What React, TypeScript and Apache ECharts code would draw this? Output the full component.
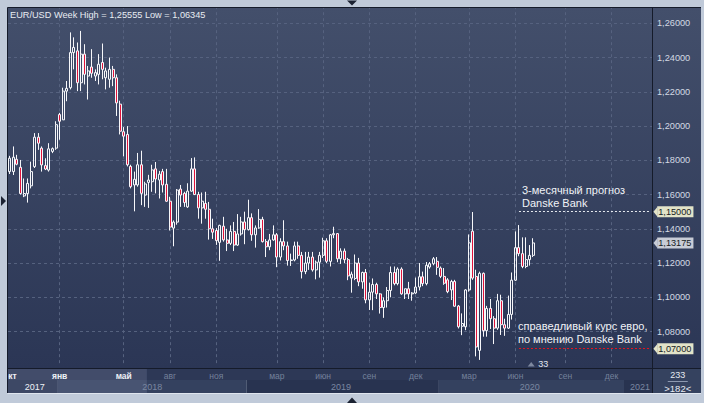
import React, { useEffect, useRef } from 'react';
import * as echarts from 'echarts';

// Weekly EUR/USD candles (oldest first)
const opens = [
  1.1734, 1.1734, 1.1806, 1.1759, 1.1592, 1.1606, 1.1651, 1.1763, 1.1935, 1.1871,
  1.1769, 1.1743, 1.1852, 1.1871, 1.2067, 1.2036, 1.2204, 1.2224, 1.2429, 1.2439,
  1.2253, 1.2420, 1.2292, 1.2345, 1.2292, 1.2302, 1.2371, 1.2282, 1.2273, 1.2331,
  1.2282, 1.2128, 1.1967, 1.1951, 1.1764, 1.1656, 1.1656, 1.1774, 1.1597, 1.1671,
  1.1675, 1.1750, 1.1685, 1.1734, 1.1660, 1.1561, 1.1404, 1.1439, 1.1632, 1.1607,
  1.1528, 1.1620, 1.1750, 1.1600, 1.1522, 1.1548, 1.1514, 1.1400, 1.1390, 1.1321,
  1.1415, 1.1335, 1.1315, 1.1385, 1.1305, 1.1370, 1.1440, 1.1395, 1.1465, 1.1365,
  1.1405, 1.1455, 1.1325, 1.1295, 1.1335, 1.1365, 1.1235, 1.1325, 1.1300, 1.1215,
  1.1218, 1.1300, 1.1245, 1.1150, 1.1200, 1.1235, 1.1160, 1.1205, 1.1245, 1.1330,
  1.1210, 1.1365, 1.1372, 1.1225, 1.1270, 1.1220, 1.1112, 1.1110, 1.1200, 1.1090,
  1.1145, 1.0985, 1.1030, 1.1075, 1.1020, 1.0940, 1.0980, 1.1040, 1.1145, 1.1080,
  1.1165, 1.1020, 1.1050, 1.1020, 1.1025, 1.1060, 1.1120, 1.1080, 1.1177, 1.1196,
  1.1210, 1.1171, 1.1122, 1.1102, 1.1043, 1.1092, 1.0949, 1.0831, 1.0828, 1.1043,
  1.1386, 1.1122, 1.0690, 1.1140, 1.0805, 1.0935, 1.0875, 1.0820, 1.0980, 1.0840,
  1.0820, 1.0900, 1.1100, 1.1290, 1.1255, 1.1180, 1.1220, 1.1245,
];
const highs = [
  1.1826, 1.1881, 1.1832, 1.1802, 1.1694, 1.1694, 1.1792, 1.1959, 1.1959, 1.1881,
  1.1812, 1.1900, 1.1875, 1.2028, 1.2077, 1.2224, 1.2263, 1.2547, 1.2518, 1.2488,
  1.25555, 1.2478, 1.2351, 1.2449, 1.2331, 1.2420, 1.2482, 1.2341, 1.2400, 1.2351,
  1.2302, 1.2148, 1.1994, 1.2000, 1.1774, 1.1734, 1.1843, 1.1856, 1.1675, 1.1715,
  1.1774, 1.1790, 1.1738, 1.1750, 1.1750, 1.1587, 1.1449, 1.1632, 1.1656, 1.1616,
  1.1666, 1.1813, 1.1817, 1.1616, 1.1612, 1.1616, 1.1557, 1.1459, 1.1404, 1.1424,
  1.1470, 1.1400, 1.1420, 1.1440, 1.1486, 1.1470, 1.1500, 1.1570, 1.1490, 1.1420,
  1.1515, 1.1470, 1.1340, 1.1370, 1.1420, 1.1375, 1.1345, 1.1450, 1.1325, 1.1255,
  1.1325, 1.1325, 1.1265, 1.1265, 1.1265, 1.1265, 1.1215, 1.1265, 1.1348, 1.1345,
  1.1370, 1.1412, 1.1375, 1.1286, 1.1285, 1.1230, 1.1150, 1.1250, 1.1230, 1.1150,
  1.1165, 1.1085, 1.1110, 1.1085, 1.1025, 1.1000, 1.1060, 1.1180, 1.1180, 1.1175,
  1.1175, 1.1050, 1.1090, 1.1030, 1.1115, 1.1200, 1.1150, 1.1206, 1.1206, 1.1235,
  1.1235, 1.1180, 1.1171, 1.1112, 1.1102, 1.1102, 1.0955, 1.0906, 1.1047, 1.1367,
  1.1498, 1.1161, 1.1150, 1.1145, 1.0950, 1.0990, 1.0890, 1.1020, 1.1015, 1.0875,
  1.1010, 1.1145, 1.1385, 1.1422, 1.1350, 1.1350, 1.1305, 1.1345,
];
const lows = [
  1.1720, 1.1714, 1.1771, 1.1600, 1.1585, 1.1553, 1.1636, 1.1755, 1.1861, 1.1734,
  1.1743, 1.1734, 1.1842, 1.1861, 1.1920, 1.2036, 1.2145, 1.2214, 1.2331, 1.2204,
  1.2204, 1.2243, 1.2155, 1.2282, 1.2263, 1.2243, 1.2273, 1.2214, 1.2224, 1.2233,
  1.2059, 1.1951, 1.1823, 1.1764, 1.1636, 1.1502, 1.1646, 1.1538, 1.1528, 1.1522,
  1.1616, 1.1607, 1.1577, 1.1612, 1.1557, 1.1390, 1.1298, 1.1424, 1.1528, 1.1528,
  1.1522, 1.1616, 1.1597, 1.1459, 1.1430, 1.1459, 1.1337, 1.1341, 1.1306, 1.1213,
  1.1325, 1.1270, 1.1305, 1.1270, 1.1300, 1.1360, 1.1310, 1.1390, 1.1330, 1.1290,
  1.1400, 1.1320, 1.1235, 1.1275, 1.1330, 1.1176, 1.1215, 1.1275, 1.1185, 1.1183,
  1.1210, 1.1225, 1.1110, 1.1135, 1.1160, 1.1150, 1.1105, 1.1115, 1.1230, 1.1200,
  1.1180, 1.1345, 1.1205, 1.1195, 1.1200, 1.1100, 1.1027, 1.1100, 1.1065, 1.1050,
  1.0965, 1.0926, 1.0925, 1.0990, 1.0905, 1.0880, 1.0940, 1.1000, 1.1070, 1.1070,
  1.1015, 1.0990, 1.0990, 1.0980, 1.1020, 1.1040, 1.1065, 1.1070, 1.1167, 1.1187,
  1.1131, 1.1112, 1.1073, 1.1024, 1.0984, 1.0945, 1.0818, 1.0779, 1.0808, 1.1033,
  1.1102, 1.0655, 1.06345, 1.0770, 1.0770, 1.0815, 1.0727, 1.0810, 1.0780, 1.0775,
  1.0815, 1.0870, 1.1095, 1.1240, 1.1170, 1.1170, 1.1185, 1.1235,
];
const closes = [
  1.1812, 1.1818, 1.1777, 1.1606, 1.1606, 1.1665, 1.1734, 1.1935, 1.1900, 1.1773,
  1.1749, 1.1867, 1.1868, 1.2008, 1.2028, 1.2204, 1.2220, 1.2429, 1.2459, 1.2253,
  1.2420, 1.2302, 1.2322, 1.2308, 1.2312, 1.2361, 1.2331, 1.2322, 1.2331, 1.2282,
  1.2135, 1.1970, 1.1941, 1.1774, 1.1646, 1.1689, 1.1774, 1.1607, 1.1662, 1.1685,
  1.1744, 1.1691, 1.1719, 1.1656, 1.1561, 1.1410, 1.1439, 1.1626, 1.1597, 1.1553,
  1.1620, 1.1750, 1.1600, 1.1522, 1.1561, 1.1514, 1.1400, 1.1380, 1.1331, 1.1420,
  1.1335, 1.1315, 1.1385, 1.1305, 1.1370, 1.1440, 1.1395, 1.1465, 1.1365, 1.1405,
  1.1455, 1.1325, 1.1295, 1.1335, 1.1365, 1.1235, 1.1325, 1.1300, 1.1215, 1.1218,
  1.1300, 1.1245, 1.1150, 1.1200, 1.1235, 1.1160, 1.1205, 1.1245, 1.1330, 1.1210,
  1.1365, 1.1372, 1.1225, 1.1270, 1.1220, 1.1125, 1.1135, 1.1200, 1.1090, 1.1145,
  1.0985, 1.1030, 1.1075, 1.1020, 1.0940, 1.0980, 1.1040, 1.1145, 1.1080, 1.1165,
  1.1020, 1.1050, 1.1020, 1.1025, 1.1060, 1.1120, 1.1080, 1.1187, 1.1196, 1.1225,
  1.1175, 1.1122, 1.1082, 1.1033, 1.1092, 1.0948, 1.0828, 1.0847, 1.1043, 1.1318,
  1.1112, 1.0710, 1.1140, 1.0805, 1.0935, 1.0875, 1.0820, 1.0980, 1.0840, 1.0820,
  1.0900, 1.1100, 1.1290, 1.1255, 1.1180, 1.1220, 1.1245, 1.13175,
];

const futureBars = 33; // empty bars to the right of the last candle
const monthTickIndex = [0, 14, 32, 45, 58, 75, 88, 101, 114, 129, 142, 156, 169];
const monthTickLabel = ['окт', 'янв', 'май', 'авг', 'ноя', 'мар', 'июн', 'сен', 'дек', 'мар', 'июн', 'сен', 'дек'];
const yearStartIndex = [0, 14, 67, 121, 173];
const yearLabelIndex = [7, 40, 93, 146, 177];
const yearLabel = ['2017', '2018', '2019', '2020', '2021'];
const navigatorEndIndex = 39;
const forecastLevel = 1.15;
const fairLevel = 1.07;
const annotationStartIndex = 143;
const forecastText = ['3-месячный прогноз', 'Danske Bank'];
const fairText = ['справедливый курс евро,', 'по мнению Danske Bank'];
const barsTotalText = '233';
const barsVisibleText = '>182<';

const FONT = '"Liberation Sans", Arial, sans-serif';

export default function App() {
  const ref = useRef<HTMLDivElement>(null);

  useEffect(() => {
    const chart = echarts.init(ref.current!, null, { renderer: 'svg' });
    const n = opens.length;
    const total = n + futureBars;
    const categories = Array.from({ length: total }, (_, i) => String(i));
    const ohlc = opens.map((o, i) => [o, closes[i], lows[i], highs[i]]);
    const fmt = (v: number) => v.toFixed(5).replace('.', ',');
    const hi = Math.max(...highs);
    const lo = Math.min(...lows);
    const last = closes[n - 1];
    const monthMap = new Map<number, string>(monthTickIndex.map((idx, k) => [idx, monthTickLabel[k]]));
    const yearMap = new Map<number, string>(yearLabelIndex.map((idx, k) => [idx, yearLabel[k]]));

    const gridLine = { color: '#56627f', width: 1, type: [3, 3] as any };
    const hidden = { color: 'rgba(0,0,0,0)', width: 1, type: 'solid' };
    const box = (text: string, bg: string) => ({
      show: true,
      position: 'end',
      formatter: text,
      distance: 6.5,
      backgroundColor: bg,
      color: '#161a22',
      padding: [1, 2, 0, 1],
      fontSize: 9.2,
      lineHeight: 10,
      fontFamily: FONT,
      opacity: 1,
    });
    const note = (lines: string[], dist: number[]) => ({
      show: true,
      position: 'insideStartTop',
      formatter: lines.join('\n'),
      color: '#f1f3f7',
      fontSize: 11,
      lineHeight: 13,
      fontFamily: FONT,
      distance: dist,
    });

    chart.setOption({
      animation: false,
      backgroundColor: '#c0cad9',
      grid: { left: 7.5, right: 51.5, top: 6.18, bottom: 37.2, containLabel: false },
      xAxis: [
        {
          type: 'category',
          data: categories,
          boundaryGap: true,
          z: 2,
          axisLine: { show: false },
          axisTick: { show: false },
          axisLabel: {
            interval: (i: number) => monthMap.has(i),
            formatter: (_v: string, i: number) => {
              const t = monthMap.get(i) ?? '';
              return i < navigatorEndIndex ? `{hi|${t}}` : `{lo|${t}}`;
            },
            margin: 5.5,
            rich: {
              hi: { color: '#eef1f6', fontWeight: 'bold', fontSize: 8.5, fontFamily: FONT },
              lo: { color: '#74819b', fontSize: 8.5, fontFamily: FONT },
            },
          },
          splitLine: {
            show: true,
            interval: (i: number) => monthMap.has(i) && i > 0,
            alignWithLabel: true,
            lineStyle: gridLine,
          },
        },
        {
          type: 'category',
          data: categories,
          position: 'bottom',
          boundaryGap: true,
          z: 2,
          axisLine: { show: false },
          axisTick: { show: false },
          splitLine: { show: false },
          axisLabel: {
            interval: (i: number) => yearMap.has(i),
            formatter: (_v: string, i: number) => {
              const t = yearMap.get(i) ?? '';
              return i < navigatorEndIndex ? `{hi|${t}}` : `{lo|${t}}`;
            },
            margin: 16.5,
            rich: {
              hi: { color: '#eef1f6', fontSize: 9, fontFamily: FONT },
              lo: { color: '#7a87a1', fontSize: 9, fontFamily: FONT },
            },
          },
        },
      ],
      yAxis: {
        type: 'value',
        position: 'right',
        min: 1.06,
        max: 1.27,
        interval: 0.02,
        z: 2,
        axisLine: { show: false },
        axisTick: { show: false },
        axisLabel: {
          color: '#d3d9e3',
          fontSize: 9.2,
          fontFamily: FONT,
          margin: 4.5,
          formatter: (v: number) => (v > 1.265 || v < 1.065 ? '' : fmt(v)),
        },
        splitLine: { show: true, showMinLine: false, showMaxLine: false, lineStyle: gridLine },
      },
      series: [
        {
          type: 'candlestick',
          data: ohlc,
          barWidth: 2.5,
          clip: false,
          z: 3,
          itemStyle: {
            color: 'rgba(0,0,0,0)',
            color0: '#e0123a',
            borderColor: '#f6f7fa',
            borderColor0: '#f6f7fa',
            borderWidth: 1,
          },
          markLine: {
            symbol: ['none', 'none'],
            silent: true,
            animation: false,
            z: 6,
            data: [
              [
                {
                  coord: [annotationStartIndex, forecastLevel],
                  lineStyle: { color: '#e6e9ef', width: 1, type: [2, 2] },
                  label: note(forecastText, [3, 2]),
                },
                { coord: [total - 1, forecastLevel] },
              ],
              [
                { coord: [annotationStartIndex, forecastLevel], lineStyle: hidden, label: box(fmt(forecastLevel), '#e2e3c8') },
                { coord: [total - 1, forecastLevel] },
              ],
              [
                {
                  coord: [annotationStartIndex, fairLevel],
                  lineStyle: { color: '#e4141f', width: 1, type: [2, 2] },
                  label: note(fairText, [-1, 3]),
                },
                { coord: [total - 1, fairLevel] },
              ],
              [
                { coord: [annotationStartIndex, fairLevel], lineStyle: hidden, label: box(fmt(fairLevel), '#e2e3c8') },
                { coord: [total - 1, fairLevel] },
              ],
              [
                { coord: [n - 1, last], lineStyle: hidden, label: box(fmt(last), '#c8ccd6') },
                { coord: [total - 1, last] },
              ],
            ],
          },
        },
      ],
    });

    // positions derived from the chart's own scales
    const X = (i: number) => chart.convertToPixel({ xAxisIndex: 0 }, i) as number;
    const Y = (v: number) => chart.convertToPixel({ yAxisIndex: 0 }, v) as number;
    const step = X(1) - X(0);
    const edge = (i: number) => X(i) - step / 2;

    const L = 7.5, T = 7.5, R = 652.5, B = 368, BB = 393, PR = 701, W = 704, H = 403;
    const frame = '#c0cad9';
    const dark = '#151b2a';
    const bgGrad = () =>
      new echarts.graphic.LinearGradient(0, 0, 0, 1, [
        { offset: 0, color: '#434f6b' },
        { offset: 1, color: '#2b3655' },
      ]);

    const els: any[] = [];
    els.push({ type: 'rect', z: 0, silent: true, shape: { x: L, y: T, width: R - L, height: B - T }, style: { fill: bgGrad() } });
    els.push({ type: 'rect', z: 0, silent: true, shape: { x: R, y: T, width: PR - R, height: B - T }, style: { fill: bgGrad() } });
    // time band
    els.push({ type: 'rect', z: 1, silent: true, shape: { x: L, y: B, width: R - L, height: 12 }, style: { fill: '#2d3856' } });
    yearStartIndex.forEach((s, k) => {
      const x0 = k === 0 ? L : edge(s);
      const x1 = k === yearStartIndex.length - 1 ? R : edge(yearStartIndex[k + 1]);
      els.push({
        type: 'rect', z: 1, silent: true,
        shape: { x: x0, y: B + 12, width: x1 - x0, height: BB - B - 12 },
        style: { fill: k % 2 === 0 ? '#283350' : '#34415f' },
      });
    });
    els.push({
      type: 'rect', z: 1.5, silent: true,
      shape: { x: L, y: B, width: edge(navigatorEndIndex) - L, height: BB - B },
      style: { fill: 'rgba(205,218,245,0.13)' },
    });
    // bottom right panel
    els.push({ type: 'rect', z: 1, silent: true, shape: { x: R, y: B, width: PR - R, height: BB - B }, style: { fill: '#35425f' } });
    const cx = (R + PR) / 2 + 1;
    els.push({ type: 'text', z: 12, silent: true, x: cx, y: 375, style: { text: barsTotalText, fill: '#e6eaf1', font: `9px ${FONT}`, textAlign: 'center', align: 'center', textVerticalAlign: 'middle', verticalAlign: 'middle' } });
    els.push({ type: 'line', z: 12, silent: true, shape: { x1: cx - 10, y1: 381.5, x2: cx + 10, y2: 381.5 }, style: { stroke: '#8d99b0', lineWidth: 1 } });
    els.push({ type: 'text', z: 12, silent: true, x: cx, y: 388, style: { text: barsVisibleText, fill: '#e6eaf1', font: `9.5px ${FONT}`, textAlign: 'center', align: 'center', textVerticalAlign: 'middle', verticalAlign: 'middle' } });
    // frame
    els.push({ type: 'rect', z: 10, silent: true, shape: { x: 0, y: 0, width: W, height: T }, style: { fill: frame } });
    els.push({ type: 'rect', z: 10, silent: true, shape: { x: 0, y: 0, width: L, height: H }, style: { fill: frame } });
    els.push({ type: 'rect', z: 10, silent: true, shape: { x: PR, y: 0, width: W - PR, height: H }, style: { fill: frame } });
    els.push({ type: 'rect', z: 10, silent: true, shape: { x: 0, y: BB, width: W, height: H - BB }, style: { fill: frame } });
    els.push({ type: 'line', z: 11, silent: true, shape: { x1: L, y1: T, x2: PR, y2: T }, style: { stroke: dark, lineWidth: 1 } });
    els.push({ type: 'line', z: 11, silent: true, shape: { x1: L, y1: T, x2: L, y2: BB }, style: { stroke: dark, lineWidth: 1 } });
    els.push({ type: 'line', z: 11, silent: true, shape: { x1: R, y1: T, x2: R, y2: BB }, style: { stroke: dark, lineWidth: 1 } });
    els.push({ type: 'line', z: 11, silent: true, shape: { x1: L, y1: B + 0.5, x2: PR, y2: B + 0.5 }, style: { stroke: dark, lineWidth: 1 } });
    els.push({ type: 'line', z: 11, silent: true, shape: { x1: L, y1: BB + 0.5, x2: PR, y2: BB + 0.5 }, style: { stroke: '#dfe5ee', lineWidth: 1 } });
    // frame arrows
    els.push({ type: 'polygon', z: 11, silent: true, shape: { points: [[347, 0.5], [357, 0.5], [352, 5.5]] }, style: { fill: '#1b2232' } });
    els.push({ type: 'polygon', z: 11, silent: true, shape: { points: [[347, 403], [357, 403], [352, 397.5]] }, style: { fill: '#1b2232' } });
    els.push({ type: 'polygon', z: 11, silent: true, shape: { points: [[1, 196], [1, 206], [6, 201]] }, style: { fill: '#1b2232' } });
    // title
    els.push({
      type: 'text', z: 12, silent: true, x: 10, y: 10.5,
      style: {
        text: `EUR/USD Week High = ${fmt(hi)} Low = ${fmt(lo)}`,
        fill: '#e8ecf2', font: `9.2px ${FONT}`, textAlign: 'left', align: 'left', textVerticalAlign: 'top', verticalAlign: 'top',
      },
    });
    // price tag arrow tips
    const tags: [number, string][] = [[forecastLevel, '#e2e3c8'], [fairLevel, '#e2e3c8'], [last, '#c8ccd6']];
    const tagX = X(total - 1) + 6.5;
    tags.forEach(([v, c]) => {
      const y = Y(v);
      els.push({ type: 'polygon', z: 7, silent: true, shape: { points: [[tagX - 3.8, y], [tagX + 0.3, y - 5], [tagX + 0.3, y + 5]] }, style: { fill: c } });
    });
    // shift marker
    const lx = X(n - 1);
    els.push({ type: 'polygon', z: 7, silent: true, shape: { points: [[lx - 5.5, 366.5], [lx + 1.5, 366.5], [lx - 2, 362]] }, style: { fill: '#7d889f' } });
    els.push({ type: 'text', z: 7, silent: true, x: lx + 5, y: 363.5, style: { text: String(futureBars), fill: '#e2e6ee', font: `9px ${FONT}`, textAlign: 'left', align: 'left', textVerticalAlign: 'middle', verticalAlign: 'middle' } });

    chart.setOption({ graphic: { elements: els } });

    return () => chart.dispose();
  }, []);

  return <div ref={ref} style={{ position: 'fixed', left: 0, top: 0, width: 704, height: 403 }} />;
}
